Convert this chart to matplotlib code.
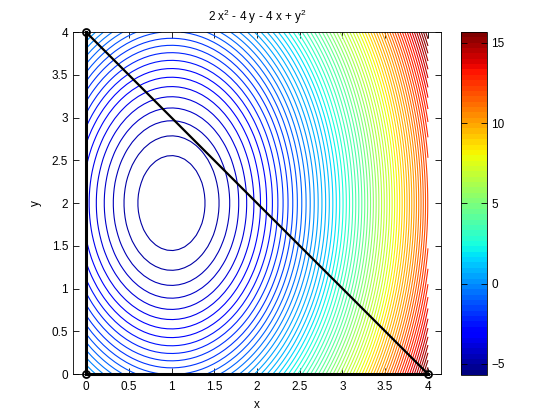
import numpy as np
import matplotlib
matplotlib.use("Agg")
import matplotlib.pyplot as plt
from matplotlib.cm import ScalarMappable
from matplotlib.colors import Normalize

plt.rcParams['font.family'] = ['Liberation Sans', 'DejaVu Sans']
plt.rcParams['mathtext.default'] = 'regular'
plt.rcParams['font.size'] = 8.5

# function grid (0..4 in both axes)
x_range = [0.0, 4.0]
y_range = [0.0, 4.0]
n_grid = 60
level_count = 70
# triangle constraint vertices
tri_x = [0, 0, 4, 0]
tri_y = [0, 4, 0, 0]
x_ticks = [0, 0.5, 1, 1.5, 2, 2.5, 3, 3.5, 4]
y_ticks = [0, 0.5, 1, 1.5, 2, 2.5, 3, 3.5, 4]
tick_labels = ['0', '0.5', '1', '1.5', '2', '2.5', '3', '3.5', '4']
cbar_ticks = [-5, 0, 5, 10, 15]

xs = np.linspace(x_range[0], x_range[1], n_grid)
ys = np.linspace(y_range[0], y_range[1], n_grid)
X, Y = np.meshgrid(xs, ys)
Z = 2 * X**2 - 4 * Y - 4 * X + Y**2
zmin, zmax = -6.0, 16.0
levels = np.linspace(zmin, zmax, level_count + 2)[1:-1]

cmap = plt.get_cmap('jet', 64)
norm = Normalize(vmin=levels[0], vmax=levels[-1])
line_norm = Normalize(vmin=levels[0] - 0.7, vmax=levels[-1])

fig = plt.figure(figsize=(5.6, 4.2), dpi=100)
ax = fig.add_axes([0.1304, 0.1095, 0.657, 0.814])
ax.contour(X, Y, Z, levels=levels, cmap=cmap, norm=line_norm, linewidths=0.8)
ax.plot(tri_x[:2], tri_y[:2], color='black', lw=2.2, clip_on=False, zorder=5)
ax.plot(tri_x[1:3], tri_y[1:3], color='black', lw=1.6, clip_on=False, zorder=5)
ax.plot(tri_x[2:4], tri_y[2:4], color='black', lw=2.2, clip_on=False, zorder=5)
ax.plot(tri_x[:3], tri_y[:3], linestyle='none', marker='o', markersize=5,
        markerfacecolor='none', markeredgecolor='black', markeredgewidth=1.3,
        clip_on=False, zorder=6)

ax.set_xlim(-0.152, 4.152)
ax.set_ylim(0, 4)
ax.set_xticks(x_ticks)
ax.set_xticklabels(tick_labels)
ax.set_yticks(y_ticks)
ax.set_yticklabels(tick_labels)
ax.tick_params(direction='in', top=True, right=True, length=4, width=0.6)
ax.tick_params(axis='x', pad=5)
ax.tick_params(axis='y', pad=3.5)
for s in ax.spines.values():
    s.set_linewidth(0.6)
ax.set_xlabel('x', labelpad=4)
ax.set_ylabel('y', labelpad=7)
ax.set_title('2 x$^2$ - 4 y - 4 x + y$^2$', fontsize=8.5, pad=8)

cax = fig.add_axes([0.823, 0.107, 0.0464, 0.817])
sm = ScalarMappable(norm=norm, cmap=cmap)
cb = fig.colorbar(sm, cax=cax, ticks=cbar_ticks)
cb.outline.set_linewidth(0.6)
cax.tick_params(direction='in', left=True, right=True, length=4, width=0.6, pad=3)

fig.savefig('out.png', dpi=100)
